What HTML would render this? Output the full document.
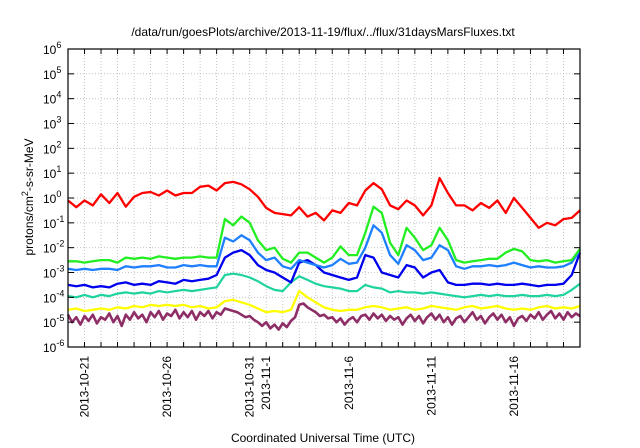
<!DOCTYPE html>
<html><head><meta charset="utf-8"><style>
html,body{margin:0;padding:0;background:#fff;}
svg{display:block;font-family:"Liberation Sans",sans-serif;}
</style></head><body>
<svg id="chart" width="640" height="448" viewBox="0 0 640 448">
<text x="323" y="36" font-size="12" text-anchor="middle">/data/run/goesPlots/archive/2013-11-19/flux/../flux/31daysMarsFluxes.txt</text>
<text transform="translate(33,197) rotate(-90)" font-size="12" text-anchor="middle">protons/cm<tspan dy="-5" font-size="9">2</tspan><tspan dy="5">-s-sr-MeV</tspan></text>
<text x="323" y="442" font-size="12" text-anchor="middle">Coordinated Universal Time (UTC)</text>
<g id="grid"></g><g id="series"></g><g id="axes"></g>
</svg>
<script>
const yTicks=[-6,-5,-4,-3,-2,-1,0,1,2,3,4,5,6];
const xTickDays=[1,6,11,12,17,22,27];
const xTickLabels=["2013-10-21","2013-10-26","2013-10-31","2013-11-1","2013-11-6","2013-11-11","2013-11-16"];
const redLog=[-0.1,-0.37,-0.1,-0.3,0.15,-0.2,0.2,-0.35,0.05,0.2,0.24,0.1,0.3,0.1,0.2,0.2,0.45,0.5,0.3,0.6,0.65,0.55,0.35,0.05,-0.4,-0.6,-0.65,-0.7,-0.37,-0.75,-0.6,-0.9,-0.5,-0.6,-0.2,-0.3,0.3,0.6,0.35,-0.3,-0.45,-0.1,-0.3,-0.7,-0.3,0.8,0.2,-0.3,-0.3,-0.5,-0.2,-0.4,-0.1,-0.6,0,-0.4,-0.8,-1.2,-1.0,-1.1,-0.85,-0.8,-0.5];
const greenLog=[-2.55,-2.55,-2.6,-2.55,-2.5,-2.5,-2.6,-2.4,-2.45,-2.4,-2.45,-2.35,-2.4,-2.45,-2.4,-2.4,-2.35,-2.4,-2.4,-0.85,-1.1,-0.75,-1.0,-1.7,-2.1,-2.0,-2.45,-2.6,-2.2,-2.2,-2.4,-2.6,-2.4,-1.95,-2.3,-2.3,-1.4,-0.35,-0.6,-1.8,-2.3,-1.2,-1.6,-2.1,-1.9,-1.2,-1.7,-2.5,-2.6,-2.55,-2.5,-2.45,-2.45,-2.2,-2.05,-2.15,-2.5,-2.55,-2.5,-2.6,-2.55,-2.5,-2.05];
const lightBlueLog=[-2.85,-2.9,-2.85,-2.9,-2.85,-2.85,-2.9,-2.75,-2.8,-2.75,-2.75,-2.7,-2.8,-2.8,-2.7,-2.75,-2.7,-2.75,-2.75,-1.6,-1.75,-1.5,-1.7,-2.2,-2.5,-2.4,-2.75,-2.85,-2.5,-2.6,-2.7,-2.8,-2.7,-2.45,-2.65,-2.6,-2.0,-1.1,-1.4,-2.3,-2.65,-1.9,-2.1,-2.5,-2.4,-1.9,-2.1,-2.75,-2.85,-2.75,-2.75,-2.7,-2.75,-2.7,-2.6,-2.7,-2.8,-2.75,-2.8,-2.8,-2.75,-2.6,-2.1];
const blueLog=[-3.5,-3.55,-3.5,-3.6,-3.55,-3.6,-3.45,-3.4,-3.5,-3.45,-3.5,-3.35,-3.4,-3.45,-3.3,-3.35,-3.3,-3.25,-3.1,-2.4,-2.2,-2.1,-2.3,-2.7,-2.9,-3.0,-3.2,-3.4,-2.6,-2.5,-2.7,-3.0,-3.1,-3.2,-3.3,-3.2,-2.3,-2.4,-3.0,-3.1,-3.2,-2.7,-2.8,-3.2,-3.0,-2.9,-3.4,-3.5,-3.5,-3.45,-3.45,-3.5,-3.45,-3.5,-3.5,-3.45,-3.5,-3.55,-3.5,-3.5,-3.45,-3.1,-2.2];
const tealLog=[-3.95,-4.0,-3.9,-4.0,-3.9,-3.95,-3.85,-3.8,-3.85,-3.8,-3.85,-3.75,-3.8,-3.75,-3.7,-3.75,-3.7,-3.65,-3.6,-3.1,-3.05,-3.1,-3.2,-3.35,-3.55,-3.7,-3.75,-3.4,-3.15,-3.3,-3.45,-3.55,-3.6,-3.65,-3.75,-3.75,-3.5,-3.6,-3.65,-3.8,-3.75,-3.8,-3.8,-3.85,-3.8,-3.85,-3.9,-3.95,-4.0,-3.95,-3.9,-3.95,-3.9,-3.95,-3.95,-3.9,-3.95,-3.95,-3.9,-3.95,-3.9,-3.7,-3.45];
const yellowLog=[-4.5,-4.45,-4.55,-4.5,-4.45,-4.5,-4.4,-4.45,-4.35,-4.4,-4.3,-4.35,-4.3,-4.35,-4.3,-4.4,-4.35,-4.45,-4.4,-4.15,-4.1,-4.2,-4.3,-4.45,-4.6,-4.55,-4.6,-4.5,-3.75,-4.0,-4.2,-4.4,-4.5,-4.55,-4.5,-4.5,-4.4,-4.35,-4.4,-4.5,-4.45,-4.4,-4.5,-4.45,-4.35,-4.4,-4.45,-4.5,-4.4,-4.35,-4.45,-4.4,-4.35,-4.45,-4.5,-4.45,-4.5,-4.4,-4.35,-4.45,-4.4,-4.45,-4.35];
const purpleLog=[-4.7,-5.0,-4.8,-5.1,-4.75,-4.95,-4.7,-5.05,-4.8,-4.9,-4.65,-5.0,-4.75,-5.15,-4.7,-4.9,-4.6,-4.85,-4.7,-5.0,-4.6,-4.8,-4.55,-4.9,-4.65,-4.75,-4.5,-4.85,-4.6,-4.8,-4.55,-4.9,-4.6,-4.75,-4.55,-4.85,-4.6,-4.7,-4.45,-4.5,-4.55,-4.6,-4.7,-4.8,-4.75,-4.9,-5.0,-5.15,-5.0,-5.25,-5.1,-5.3,-5.05,-5.2,-4.95,-4.8,-4.3,-4.25,-4.4,-4.5,-4.6,-4.75,-4.7,-4.85,-4.8,-5.0,-4.85,-5.1,-4.9,-4.8,-5.0,-4.75,-4.7,-4.9,-4.65,-4.85,-4.7,-4.95,-4.75,-4.9,-4.8,-5.1,-4.85,-4.7,-4.95,-4.75,-5.05,-4.8,-4.65,-4.9,-4.7,-5.0,-4.8,-5.1,-4.85,-4.75,-5.0,-4.8,-4.6,-4.9,-4.75,-5.05,-4.8,-4.65,-4.9,-4.7,-5.0,-4.8,-5.15,-4.85,-4.75,-4.95,-4.7,-4.85,-4.6,-4.9,-4.7,-4.55,-4.85,-4.65,-4.9,-4.6,-4.8,-4.65,-4.75];

const NS="http://www.w3.org/2000/svg";
const L=68,R=580,T=49,B=347,D0=0,D1=31,Y0=-6,Y1=6;
const xs=d=>L+(d-D0)/(D1-D0)*(R-L);
const ys=v=>B-(v-Y0)/(Y1-Y0)*(B-T);
function mk(tag,attrs,parent){const e=document.createElementNS(NS,tag);for(const k in attrs)e.setAttribute(k,attrs[k]);parent.appendChild(e);return e;}
const grid=document.getElementById('grid'),axes=document.getElementById('axes'),series=document.getElementById('series');
for(let d=D0+1;d<D1;d++){
  const g=mk('line',{x1:xs(d),x2:xs(d),y1:T,y2:B,stroke:'#bbb','stroke-width':0.8,'stroke-dasharray':'1,2'},grid);
  
  
  const t1=mk('line',{x1:xs(d),x2:xs(d),y1:B,y2:B-5,stroke:'#000','stroke-width':1},axes);
  
  
  const t2=mk('line',{x1:xs(d),x2:xs(d),y1:T,y2:T+5,stroke:'#000','stroke-width':1},axes);
  
  
}
yTicks.forEach(v=>{
  const y=ys(v);
  if(v>Y0&&v<Y1){
    const g=mk('line',{x1:L,x2:R,y1:y,y2:y,stroke:'#bbb','stroke-width':0.8,'stroke-dasharray':'1,2'},grid);
    
    
  }
  const tk=mk('line',{x1:L,x2:L+6,y1:y,y2:y,stroke:'#000'},axes);
  
  
  const tk2=mk('line',{x1:R,x2:R-6,y1:y,y2:y,stroke:'#000'},axes);
  
  
  const t=mk('text',{x:43,y:y+5,'font-size':12,'text-anchor':'start'},axes);
  
  
  t.textContent='10';
  const s=mk('tspan',{dy:-6,'font-size':9},t);s.textContent=String(v);
});
xTickDays.forEach((d,i)=>{
  const t=mk('text',{transform:`translate(${xs(d)+4},356) rotate(-90)`,'font-size':12,'text-anchor':'end'},axes);
  
  
  t.textContent=xTickLabels[i];
});
const fr=mk('rect',{x:L,y:T,width:R-L,height:B-T,fill:'none',stroke:'#000','stroke-width':1.2},axes);


function draw(arr,color,w,name){
  const n=arr.length;
  const pts=arr.map((v,i)=>xs(D0+i*(D1-D0)/(n-1)).toFixed(1)+','+ys(v).toFixed(1)).join(' ');
  const p=mk('polyline',{points:pts,fill:'none',stroke:color,'stroke-width':w,'stroke-linejoin':'round'},series);
  
  
}
draw(purpleLog,'#8e2e66',2.6,'series-purple');
draw(yellowLog,'#ffff00',2.3,'series-yellow');
draw(tealLog,'#1fd39e',2.2,'series-teal');
draw(blueLog,'#0000ee',2.3,'series-blue');
draw(lightBlueLog,'#1e7fff',2.3,'series-light-blue');
draw(greenLog,'#22ee22',2.3,'series-green');
draw(redLog,'#ff0000',2.3,'series-red');
</script>
</body></html>
